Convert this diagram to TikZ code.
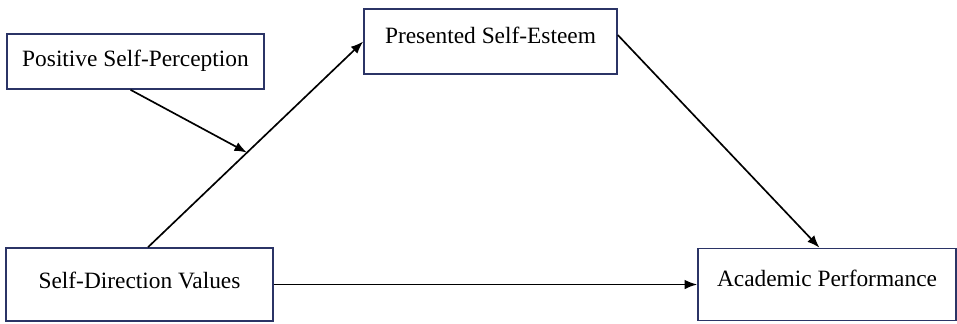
\documentclass[tikz,border=0pt]{standalone}
\usepackage{fontspec}
\setmainfont{Liberation Serif}
\usepackage{xcolor}
\usetikzlibrary{positioning, arrows.meta}

\definecolor{boxline}{HTML}{2B3466}

\tikzset{
    varbox/.style={draw=boxline, line width=0.9pt, rectangle, font=\fontsize{13.3}{16}\selectfont},
}

\begin{document}
\begin{tikzpicture}[>={Latex[length=2.5mm, width=1.9mm]}, line width=0.95pt, node distance=2cm, on grid]
        \useasboundingbox (0,0) rectangle (19.14,-6.46);

        \node[varbox, minimum width=5.34cm, minimum height=1.46cm, text depth=0.17cm] (sdv) at (2.79,-5.69) {Self-Direction Values};
        \node[varbox, minimum width=5.14cm, minimum height=1.10cm, text depth=0.12cm] (psp) [above left=4.46 and 0.08 of sdv] {Positive Self-Perception};
        \node[varbox, minimum width=5.06cm, minimum height=1.30cm, text depth=0.26cm] (pse) [above right=4.86 and 7.02 of sdv] {Presented Self-Esteem};
        \node[varbox, minimum width=5.16cm, minimum height=1.44cm, text depth=0.25cm] (acp) [right=13.75 of sdv] {Academic Performance};

        \path[->]
        ([xshift=0.17cm]sdv.north) edge coordinate[pos=0.46] (mid) (pse.west)
        ([yshift=0.13cm]pse.east) edge ([xshift=-0.15cm]acp.north)
        (sdv.east) edge (acp.west);

        \draw[->] ([xshift=-0.1cm]psp.south) -- (mid);

    \end{tikzpicture}
\end{document}
